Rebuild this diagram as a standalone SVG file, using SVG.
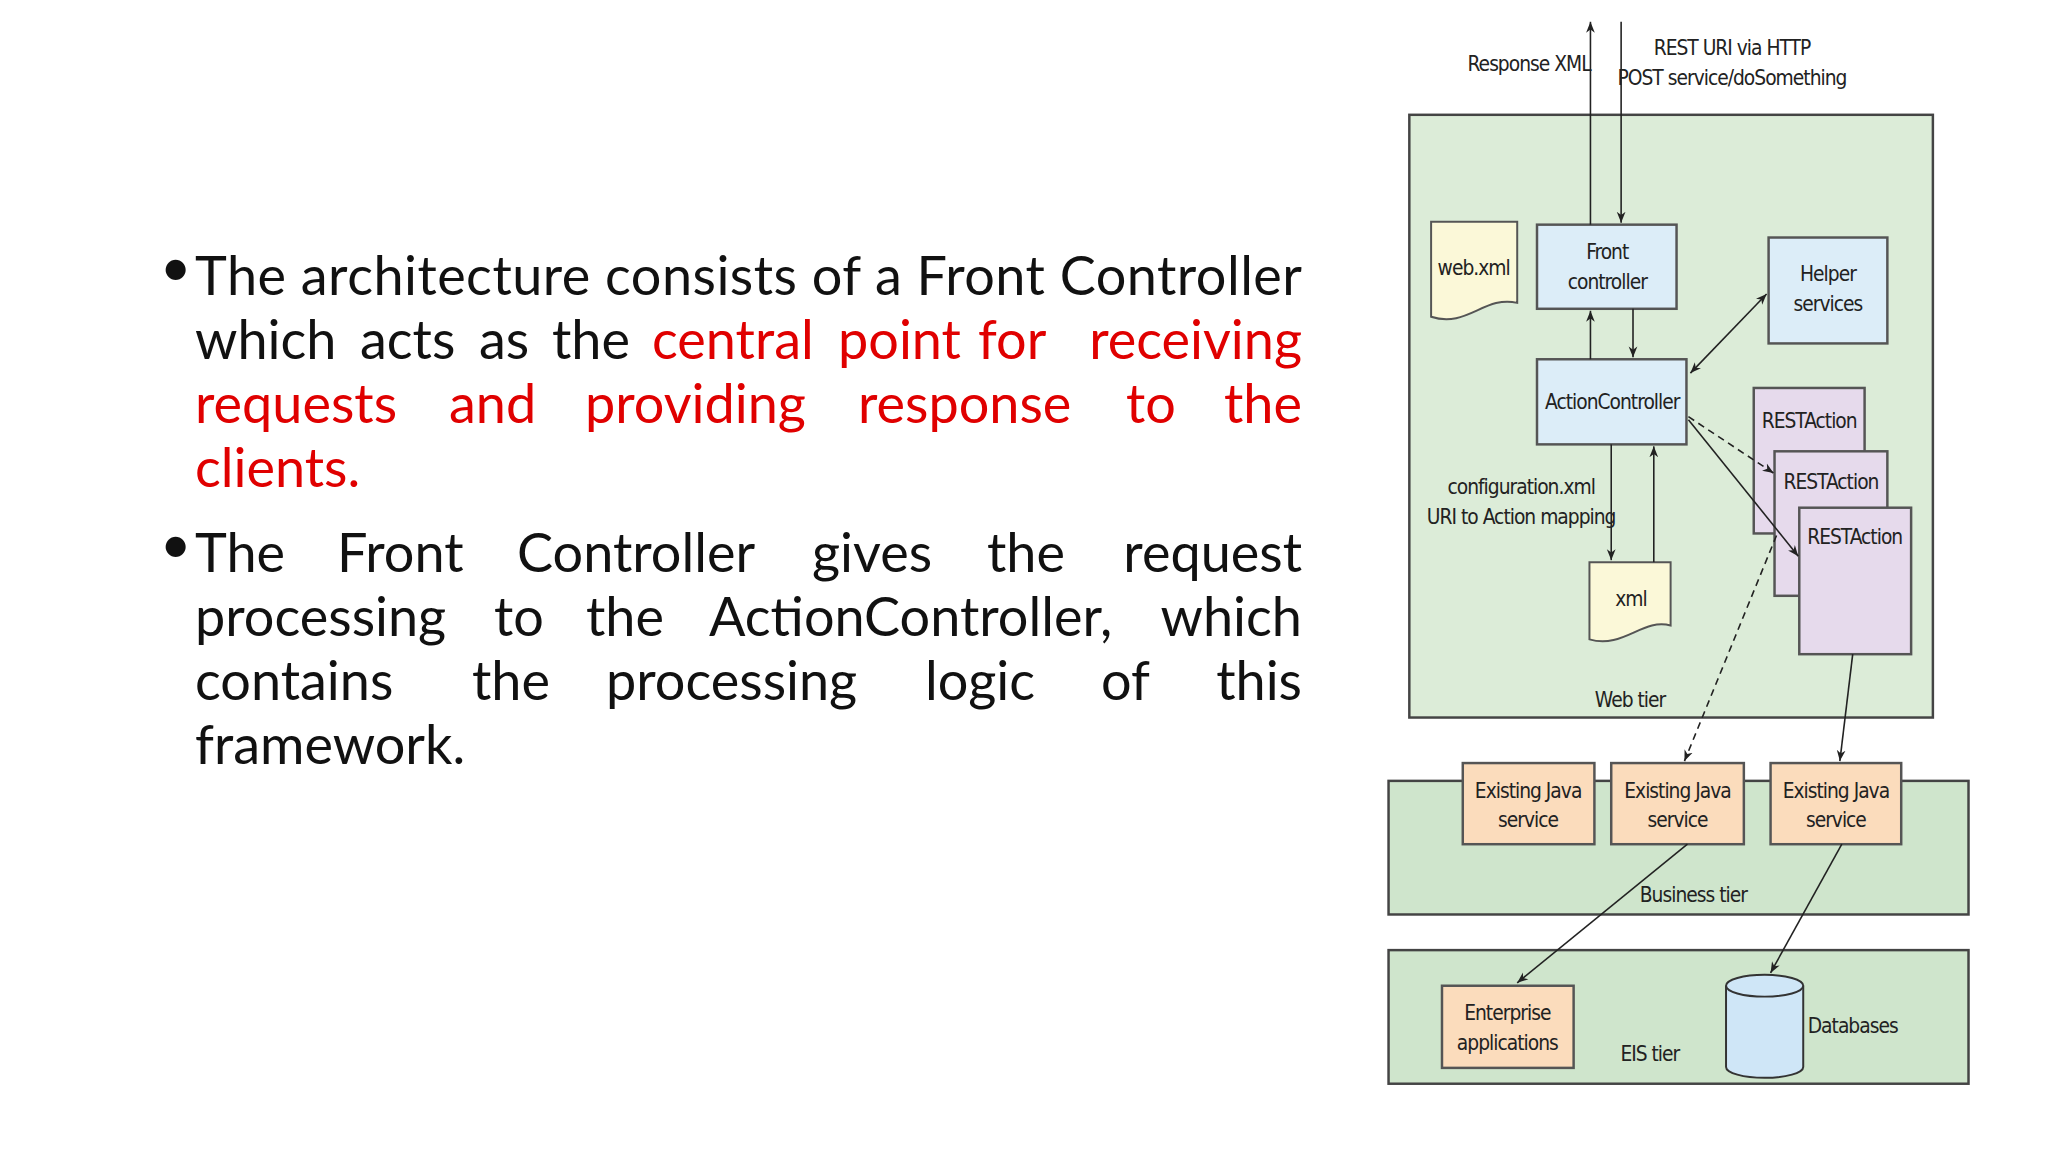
<svg xmlns="http://www.w3.org/2000/svg" width="2048" height="1152" viewBox="0 0 2048 1152">
<style>
.b{font-family:Lato,"Noto Sans",sans-serif;font-size:54px;fill:#111}
.r{fill:#e00000}
.t{font-family:"DejaVu Sans Condensed","Liberation Sans",sans-serif;font-size:21px;letter-spacing:-1px;fill:#222;text-anchor:middle}
.tier{fill:#dcecd8;stroke:#444;stroke-width:2.5}
.tier2{fill:#cfe5cc;stroke:#444;stroke-width:2.5}
.blue{fill:#dcedf8;stroke:#555;stroke-width:2.5}
.pur{fill:#e6daec;stroke:#555;stroke-width:2.5}
.org{fill:#fbdcbc;stroke:#555;stroke-width:2.5}
.doc{fill:#fbf8d8;stroke:#555;stroke-width:2}
.ln{stroke:#222;stroke-width:1.6;fill:none}
.ds{stroke-dasharray:7 5}
</style>
<defs>
<marker id="a" viewBox="0 0 10 10" refX="10" refY="5" markerWidth="11" markerHeight="11" orient="auto-start-reverse" markerUnits="userSpaceOnUse"><path d="M0,1 L10,5 L0,9 L3,5 z" fill="#222"/></marker>
</defs>
<rect width="2048" height="1152" fill="#fff"/>
<g id="text">
<text class="b" x="160" y="286" font-size="32">•</text>
<text class="b" x="195" y="295" textLength="1107" lengthAdjust="spacing">The architecture consists of a Front Controller</text>
<text class="b" y="359"><tspan x="195">which</tspan> <tspan x="360">acts</tspan> <tspan x="479">as</tspan> <tspan x="552">the</tspan> <tspan class="r" x="652">central</tspan> <tspan class="r" x="838">point</tspan> <tspan class="r" x="978">for</tspan> <tspan class="r" x="1302" text-anchor="end">receiving</tspan></text>
<text class="b r" y="423"><tspan x="195">requests</tspan> <tspan x="449">and</tspan> <tspan x="585">providing</tspan> <tspan x="858">response</tspan> <tspan x="1126">to</tspan> <tspan x="1302" text-anchor="end">the</tspan></text>
<text class="b r" x="195" y="487">clients.</text>
<text class="b" x="160" y="563" font-size="32">•</text>
<text class="b" y="572"><tspan x="195">The</tspan> <tspan x="337">Front</tspan> <tspan x="517">Controller</tspan> <tspan x="812">gives</tspan> <tspan x="987">the</tspan> <tspan x="1302" text-anchor="end">request</tspan></text>
<text class="b" y="636"><tspan x="195">processing</tspan> <tspan x="494">to</tspan> <tspan x="586">the</tspan> <tspan x="709">ActionController,</tspan> <tspan x="1302" text-anchor="end">which</tspan></text>
<text class="b" y="700"><tspan x="195">contains</tspan> <tspan x="472">the</tspan> <tspan x="606">processing</tspan> <tspan x="925">logic</tspan> <tspan x="1101">of</tspan> <tspan x="1302" text-anchor="end">this</tspan></text>
<text class="b" x="195" y="764">framework.</text>
</g>
<g transform="scale(0.9897)">
<g id="webtier"><rect class="tier" x="1424" y="116" width="529" height="609"/><text class="t" x="1647" y="714">Web tier</text></g>
<g id="business"><rect class="tier2" x="1403" y="789" width="586" height="135"/><text class="t" x="1711" y="911">Business tier</text></g>
<g id="eis"><rect class="tier2" x="1403" y="960" width="586" height="135"/><text class="t" x="1667" y="1072">EIS tier</text></g>
<g id="webxml"><path class="doc" d="M1446,224 H1533 V306 C1500,298 1482,332 1446,320 Z"/><text class="t" x="1489" y="278">web.xml</text></g>
<g id="front"><rect class="blue" x="1553" y="227" width="141" height="85"/><text class="t" x="1624" y="262">Front</text><text class="t" x="1624" y="292">controller</text></g>
<g id="helper"><rect class="blue" x="1787" y="240" width="120" height="107"/><text class="t" x="1847" y="284">Helper</text><text class="t" x="1847" y="314">services</text></g>
<g id="action"><rect class="blue" x="1553" y="363" width="151" height="86"/><text class="t" x="1629" y="413">ActionController</text></g>
<g id="ra1"><rect class="pur" x="1772" y="392" width="112" height="147"/><text class="t" x="1828" y="432">RESTAction</text></g>
<g id="ra2"><rect class="pur" x="1793" y="456" width="114" height="146"/><text class="t" x="1850" y="494">RESTAction</text></g>
<g id="ra3"><rect class="pur" x="1818" y="513" width="113" height="148"/><text class="t" x="1874" y="550">RESTAction</text></g>
<g id="xml"><path class="doc" d="M1606,568 H1688 V632 C1660,624 1640,656 1606,646 Z"/><text class="t" x="1648" y="612">xml</text></g>
<g id="config"><text class="t" x="1537" y="499">configuration.xml</text><text class="t" x="1537" y="529">URI to Action mapping</text></g>
<g id="s1"><rect class="org" x="1478" y="771" width="133" height="82"/><text class="t" x="1544" y="806">Existing Java</text><text class="t" x="1544" y="836">service</text></g>
<g id="s2"><rect class="org" x="1628" y="771" width="134" height="82"/><text class="t" x="1695" y="806">Existing Java</text><text class="t" x="1695" y="836">service</text></g>
<g id="s3"><rect class="org" x="1789" y="771" width="132" height="82"/><text class="t" x="1855" y="806">Existing Java</text><text class="t" x="1855" y="836">service</text></g>
<g id="enterprise"><rect class="org" x="1457" y="996" width="133" height="83"/><text class="t" x="1523" y="1031">Enterprise</text><text class="t" x="1523" y="1061">applications</text></g>
<g id="db"><path d="M1744,996 V1078 A39,11 0 0 0 1822,1078 V996" fill="#cfe6f7" stroke="#333" stroke-width="2"/><ellipse cx="1783" cy="996" rx="39" ry="11" fill="#cfe6f7" stroke="#333" stroke-width="2"/><text class="t" x="1872" y="1044">Databases</text></g>
<g id="labels"><text class="t" x="1545" y="72">Response XML</text><text class="t" x="1750" y="56">REST URI via HTTP</text><text class="t" x="1750" y="86">POST service/doSomething</text></g>
<g id="connectors">
<line class="ln" x1="1607" y1="227" x2="1607" y2="22" marker-end="url(#a)"/>
<line class="ln" x1="1638" y1="22" x2="1638" y2="225" marker-end="url(#a)"/>
<line class="ln" x1="1607" y1="363" x2="1607" y2="314" marker-end="url(#a)"/>
<line class="ln" x1="1650" y1="312" x2="1650" y2="361" marker-end="url(#a)"/>
<line class="ln" x1="1708" y1="377" x2="1785" y2="297" marker-start="url(#a)" marker-end="url(#a)"/>
<line class="ln" x1="1628" y1="449" x2="1628" y2="566" marker-end="url(#a)"/>
<line class="ln" x1="1671" y1="568" x2="1671" y2="451" marker-end="url(#a)"/>
<line class="ln ds" x1="1706" y1="421" x2="1792" y2="478" marker-end="url(#a)"/>
<line class="ln" x1="1706" y1="424" x2="1817" y2="562" marker-end="url(#a)"/>
<line class="ln ds" x1="1795" y1="541" x2="1702" y2="769" marker-end="url(#a)"/>
<line class="ln" x1="1872" y1="661" x2="1859" y2="769" marker-end="url(#a)"/>
<line class="ln" x1="1705" y1="853" x2="1533" y2="993" marker-end="url(#a)"/>
<line class="ln" x1="1861" y1="853" x2="1789" y2="983" marker-end="url(#a)"/>
</g>
</g>
</svg>
